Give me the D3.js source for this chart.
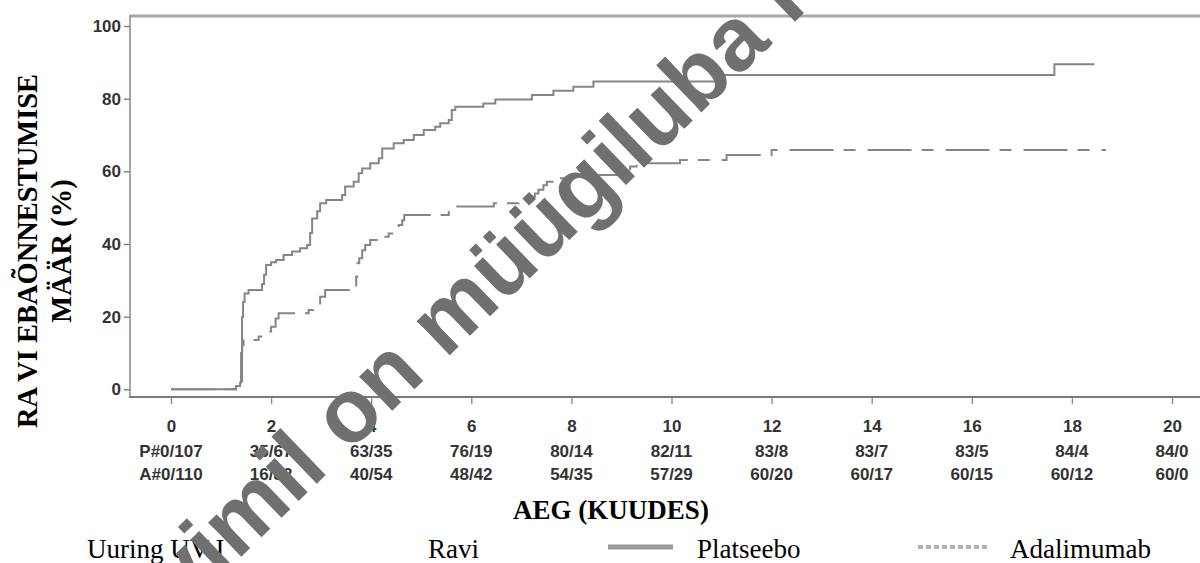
<!DOCTYPE html>
<html>
<head>
<meta charset="utf-8">
<script src="https://cdn.jsdelivr.net/npm/d3@7"></script>
<style>
  html, body { margin: 0; padding: 0; background: #fff; }
  svg { display: block; }
</style>
</head>
<body>
<svg id="chart" width="1200" height="563"></svg>
<script>
// ---------- data ----------
const xTicks = [0, 2, 4, 6, 8, 10, 12, 14, 16, 18, 20];
const yTicks = [0, 20, 40, 60, 80, 100];
const placeboAtRisk = ["P#0/107", "35/67", "63/35", "76/19", "80/14", "82/11", "83/8", "83/7", "83/5", "84/4", "84/0"];
const adaAtRisk = ["A#0/110", "16/82", "40/54", "48/42", "54/35", "57/29", "60/20", "60/17", "60/15", "60/12", "60/0"];

// [time (months), cumulative failure %]
const placeboTimes = [0, 1.30, 1.38, 1.40, 1.42, 1.44, 1.47, 1.55, 1.82, 1.86, 1.90, 2.00, 2.10, 2.25, 2.42, 2.58, 2.72, 2.78, 2.82, 2.92, 2.98, 3.10, 3.42, 3.48, 3.65, 3.75, 3.82, 3.98, 4.15, 4.22, 4.45, 4.65, 4.85, 5.05, 5.28, 5.38, 5.55, 5.61, 5.68, 6.24, 6.48, 7.21, 7.64, 8.04, 8.44, 10.95, 17.65, 18.45];
const placeboValues = [0, 0.9, 1.9, 10, 20, 24, 26.4, 27.3, 29, 31.5, 34.2, 35, 35.6, 37, 37.9, 38.8, 39.7, 43, 47, 49, 51.2, 52.1, 53.5, 55.8, 57.1, 59.5, 60.8, 62.2, 63.6, 66.3, 67.7, 68.6, 70, 71.4, 72.3, 73.2, 74.1, 76.9, 77.8, 78.7, 79.8, 81, 82.2, 83.3, 84.7, 86.5, 89.5, 89.5];

const adaTimes = [0, 1.42, 1.45, 1.75, 1.85, 2.00, 2.09, 2.15, 2.75, 2.85, 2.98, 3.08, 3.70, 3.72, 3.76, 3.82, 3.88, 3.98, 4.15, 4.35, 4.48, 4.55, 4.62, 4.66, 5.55, 6.45, 6.95, 7.20, 7.27, 7.34, 7.44, 7.51, 7.71, 8.04, 8.97, 9.17, 9.30, 10.17, 11.10, 12.00, 18.68];
const adaValues = [0, 12.2, 13.6, 14.5, 15.9, 17.2, 19.5, 20.9, 21.8, 23.2, 25.5, 27.3, 31, 34.7, 36.1, 38.3, 39.7, 41.1, 42, 42.9, 44.3, 45.2, 46.5, 48, 50.3, 51.2, 51.6, 53, 53.9, 54.9, 56.2, 57.1, 58.1, 59, 59.9, 61.3, 62.2, 63.1, 64.5, 65.9, 65.9];

const yTitleLines = ["RA VI EBAÕNNESTUMISE", "MÄÄR (%)"];
const xTitle = "AEG (KUUDES)";
const legendItems = ["Uuring UV I", "Ravi", "Platseebo", "Adalimumab"];
const watermark = "Ravimil on müügiluba lõppenud";

// ---------- drawing ----------
const svg = d3.select("#chart");
const x = d3.scaleLinear().domain([0, 20]).range([171, 1172]);
const y = d3.scaleLinear().domain([0, 100]).range([389.3, 26]);

const sans = "'Liberation Sans', Arial, sans-serif";
const serif = "'Liberation Serif', 'Times New Roman', serif";

// frame lines
svg.append("line").attr("x1", 130).attr("x2", 1200).attr("y1", 16).attr("y2", 16)
  .attr("stroke", "#a8a8a8").attr("stroke-width", 3);
svg.append("line").attr("x1", 130).attr("x2", 130).attr("y1", 15).attr("y2", 397)
  .attr("stroke", "#8a8a8a").attr("stroke-width", 1.5);
svg.append("line").attr("x1", 129).attr("x2", 1200).attr("y1", 397).attr("y2", 397)
  .attr("stroke", "#7a7a7a").attr("stroke-width", 2);

// y axis
const gy = svg.append("g").attr("transform", "translate(130,0)")
  .call(d3.axisLeft(y).tickValues(yTicks).tickSize(6).tickPadding(3).tickFormat(d3.format("d")));
gy.select(".domain").remove();
gy.selectAll(".tick line").attr("stroke", "#777").attr("stroke-width", 1.3);
gy.selectAll(".tick text").attr("font-family", sans).attr("font-weight", "bold")
  .attr("font-size", 17).attr("fill", "#333");

// x axis
const gx = svg.append("g").attr("transform", "translate(0,397)")
  .call(d3.axisBottom(x).tickValues(xTicks).tickSize(7).tickPadding(16).tickFormat(d3.format("d")));
gx.select(".domain").remove();
gx.selectAll(".tick line").attr("stroke", "#888").attr("stroke-width", 1.3);
gx.selectAll(".tick text").attr("font-family", sans).attr("font-weight", "bold")
  .attr("font-size", 17).attr("fill", "#333");

// at-risk rows
svg.append("g").selectAll("text").data(placeboAtRisk).join("text")
  .attr("x", (d, i) => x(xTicks[i])).attr("y", 457)
  .attr("text-anchor", "middle").attr("font-family", sans).attr("font-weight", "bold")
  .attr("font-size", 17).attr("fill", "#333")
  .text(d => d);
svg.append("g").selectAll("text").data(adaAtRisk).join("text")
  .attr("x", (d, i) => x(xTicks[i])).attr("y", 480)
  .attr("text-anchor", "middle").attr("font-family", sans).attr("font-weight", "bold")
  .attr("font-size", 17).attr("fill", "#333")
  .text(d => d);

// curves
const line = d3.line().x(d => x(d[0])).y(d => y(d[1])).curve(d3.curveStepAfter);
const placebo = placeboTimes.map((t, i) => [t, placeboValues[i]]);
const ada = adaTimes.map((t, i) => [t, adaValues[i]]);

svg.append("path").datum(ada).attr("d", line).attr("fill", "none")
  .attr("stroke", "#858585").attr("stroke-width", 2).attr("stroke-dasharray", "44,10,12,12");
svg.append("path").datum(placebo).attr("d", line).attr("fill", "none")
  .attr("stroke", "#858585").attr("stroke-width", 2);

// axis titles
const yt = svg.append("g");
yTitleLines.forEach((s, i) => {
  yt.append("text")
    .attr("transform", `translate(${37 + i * 34},251) rotate(-90)`)
    .attr("text-anchor", "middle")
    .attr("font-family", serif).attr("font-weight", "bold").attr("font-size", 28.5)
    .attr("fill", "#000").text(s);
});
svg.append("text").attr("x", 611).attr("y", 519).attr("text-anchor", "middle")
  .attr("font-family", serif).attr("font-weight", "bold").attr("font-size", 27)
  .attr("fill", "#000").text(xTitle);

// legend
const legY = 558;
svg.append("text").attr("x", 87).attr("y", legY).attr("font-family", serif).attr("font-size", 27).text(legendItems[0]);
svg.append("text").attr("x", 428).attr("y", legY).attr("font-family", serif).attr("font-size", 27).text(legendItems[1]);
svg.append("line").attr("x1", 608).attr("x2", 673).attr("y1", 547).attr("y2", 547)
  .attr("stroke", "#9a9a9a").attr("stroke-width", 5);
svg.append("text").attr("x", 697).attr("y", legY).attr("font-family", serif).attr("font-size", 27).text(legendItems[2]);
svg.append("line").attr("x1", 918).attr("x2", 988).attr("y1", 547).attr("y2", 547)
  .attr("stroke", "#b0b0b0").attr("stroke-width", 4).attr("stroke-dasharray", "5,3");
svg.append("text").attr("x", 1010).attr("y", legY).attr("font-family", serif).attr("font-size", 27).text(legendItems[3]);

// watermark
svg.append("text")
  .attr("transform", "translate(100,693) rotate(-44)")
  .attr("font-family", sans).attr("font-weight", "bold").attr("font-size", 90)
  .attr("fill", "#707070")
  .text(watermark);
</script>
</body>
</html>
